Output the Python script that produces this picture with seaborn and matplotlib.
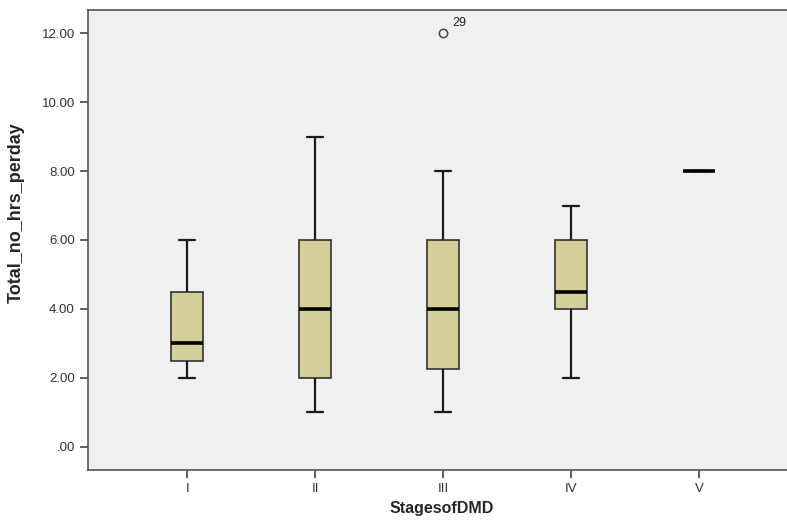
import numpy as np
import pandas as pd
import matplotlib
matplotlib.use('Agg')
import matplotlib.pyplot as plt
import seaborn as sns

# hours per day by stage
stage_I = [2, 2.5, 3, 4.5, 6]
stage_II = [1, 2, 4, 6, 9]
stage_III = [1, 2, 2.25, 3, 4, 5, 6, 8, 12]
stage_IV = [2, 4, 4.5, 6, 7]
stage_V = [8]
stages = ['I', 'II', 'III', 'IV', 'V']
outlier_case = 29  # case number of the outlier in stage III

df = pd.DataFrame({
    'StagesofDMD': (['I'] * len(stage_I) + ['II'] * len(stage_II) +
                    ['III'] * len(stage_III) + ['IV'] * len(stage_IV) +
                    ['V'] * len(stage_V)),
    'Total_no_hrs_perday': stage_I + stage_II + stage_III + stage_IV + stage_V,
})

sns.set_style('white')
plt.rcParams['font.family'] = ['Liberation Sans', 'DejaVu Sans']

fig = plt.figure(figsize=(7.87, 5.2), dpi=100)
ax = fig.add_axes([88 / 787, 50 / 520, 1 - 88 / 787 + 0.01, 460 / 520])
ax.set_facecolor('#F0F0F0')

sns.boxplot(data=df, x='StagesofDMD', y='Total_no_hrs_perday', order=stages,
            width=0.25, color='#D3CE9A', saturation=1, ax=ax,
            boxprops=dict(edgecolor='#333333', linewidth=1.2),
            whiskerprops=dict(color='#1a1a1a', linewidth=1.6),
            capprops=dict(color='#1a1a1a', linewidth=1.6),
            medianprops=dict(color='black', linewidth=2.6),
            flierprops=dict(marker='o', markerfacecolor='none',
                            markeredgecolor='#444444', markersize=6,
                            markeredgewidth=1.1))

# label the outlier with its case number
ax.text(2 + 0.07, max(stage_III) + 0.12, str(outlier_case),
        fontsize=9, ha='left', va='bottom', color='#222222')

ax.set_xlim(-0.775, 4.75)
ax.set_ylim(-0.67, 12.67)
ax.set_yticks(np.arange(0, 13, 2))
ax.set_yticklabels(['.00', '2.00', '4.00', '6.00', '8.00', '10.00', '12.00'])

for side in ['left', 'bottom', 'top']:
    ax.spines[side].set_color('#555555')
    ax.spines[side].set_linewidth(1.2)
ax.spines['right'].set_visible(False)

ax.tick_params(axis='both', which='both', direction='out', length=6,
               width=1.2, color='#444444', labelsize=9.5,
               labelcolor='#333333', left=True, bottom=True)

ax.set_xlabel('StagesofDMD', fontsize=11.5, fontweight='bold')
ax.set_ylabel('Total_no_hrs_perday', fontsize=13, fontweight='bold')
ax.xaxis.set_label_coords(0.5, -31 / 460, transform=ax.transAxes)
ax.yaxis.set_label_coords(-63 / 707, 0.56, transform=ax.transAxes)

fig.savefig('out.png', dpi=100)
